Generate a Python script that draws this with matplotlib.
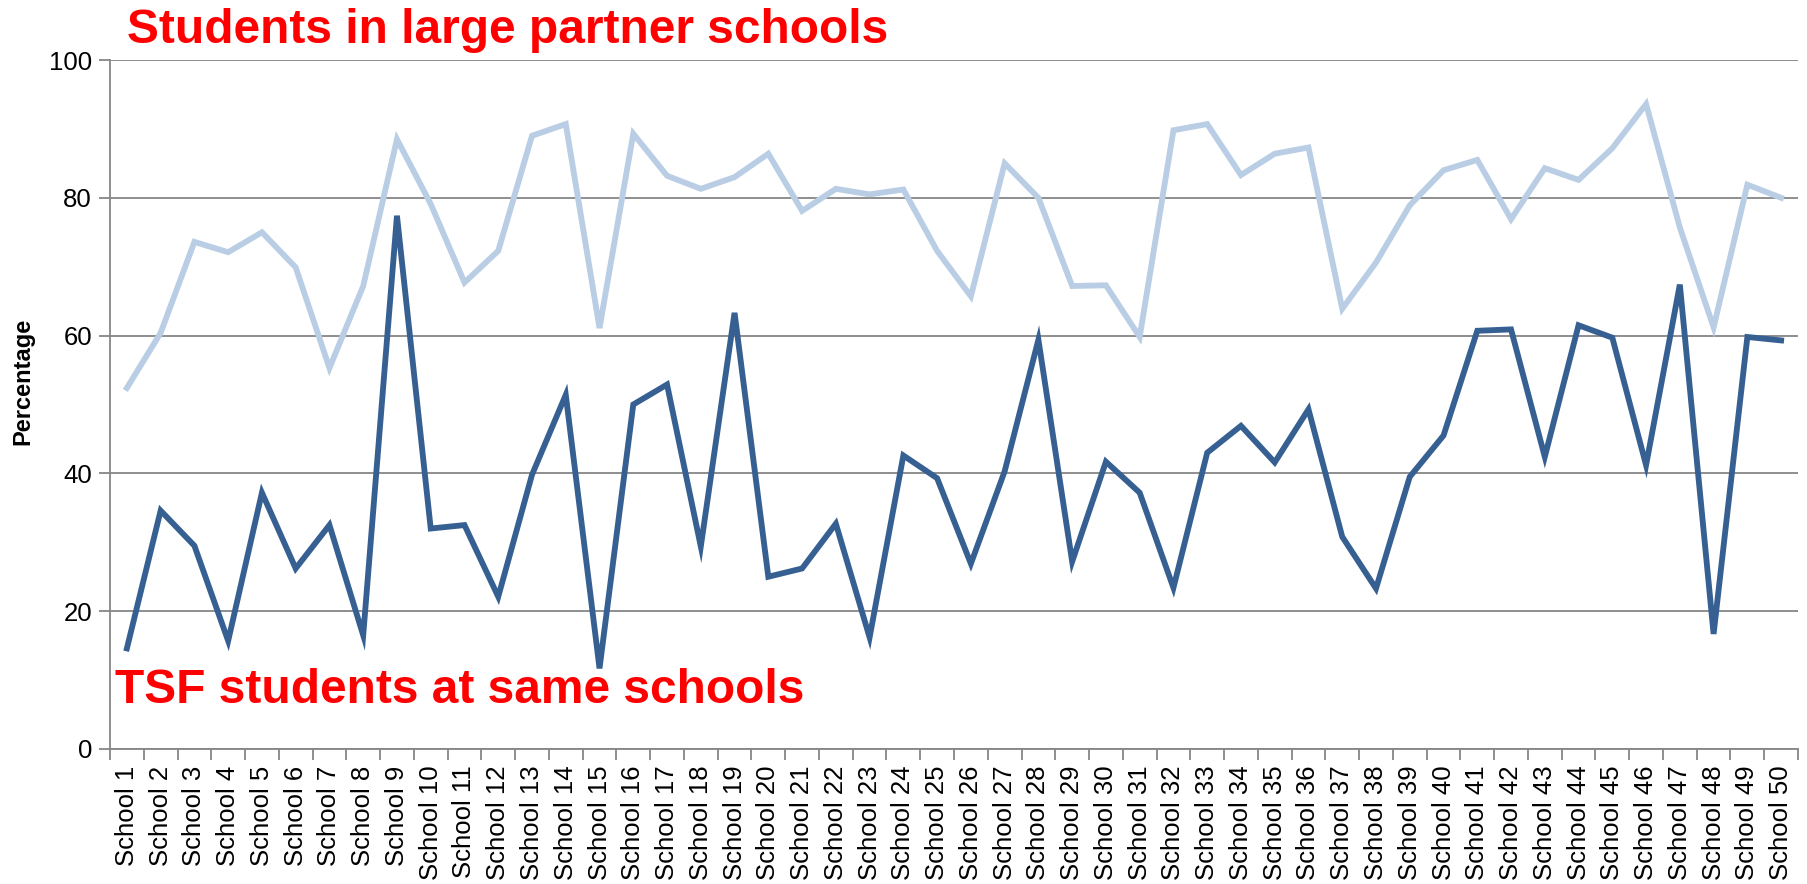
import numpy as np
import matplotlib
matplotlib.use("Agg")
import matplotlib.pyplot as plt

plt.rcParams['font.family'] = ['Liberation Sans', 'DejaVu Sans']

# 学校名称
schools = ["School %d" % i for i in range(1, 51)]

# 大型合作学校的学生比例
large_partner = [52.4, 60.4, 73.6, 72.1, 75.0, 69.9, 55.3, 67.2, 88.5, 79.1,
                 67.7, 72.3, 89.0, 90.7, 61.1, 89.3, 83.2, 81.3, 83.0, 86.4,
                 78.1, 81.3, 80.5, 81.2, 72.3, 65.7, 85.0, 80.0, 67.2, 67.3,
                 59.8, 89.8, 90.7, 83.3, 86.4, 87.3, 63.9, 70.6, 78.9, 84.0,
                 85.5, 76.9, 84.3, 82.6, 87.2, 93.6, 75.7, 61.2, 81.9, 80.0]

# 同校 TSF 学生比例
tsf_same = [14.6, 34.6, 29.5, 15.7, 37.2, 26.2, 32.5, 16.5, 77.4, 32.0,
            32.5, 22.1, 39.8, 51.4, 11.7, 50.0, 52.9, 29.4, 63.3, 25.0,
            26.2, 32.7, 16.2, 42.6, 39.3, 26.9, 40.3, 59.4, 27.2, 41.7,
            37.2, 23.4, 43.0, 46.9, 41.6, 49.3, 30.8, 23.3, 39.5, 45.5,
            60.7, 60.9, 42.4, 61.5, 59.7, 41.2, 67.4, 16.7, 59.8, 59.3]

y_ticks = [0, 20, 40, 60, 80, 100]

W, H = 1807, 884
fig = plt.figure(figsize=(W / 100, H / 100), dpi=100)
ax = fig.add_axes([110 / W, 1 - 749 / H, (1798 - 110) / W, (749 - 60) / H])

x = np.arange(1, len(schools) + 1)
ax.plot(x, large_partner, color="#B9CDE5", lw=4.2, solid_joinstyle="miter", zorder=3)
ax.plot(x, tsf_same, color="#376092", lw=4.2, solid_joinstyle="miter", zorder=4)

ax.set_xlim(0.5, len(schools) + 0.5)
ax.set_ylim(0, 100)
ax.set_yticks(y_ticks)
ax.set_yticklabels([str(v) for v in y_ticks], fontsize=18.5)
ax.yaxis.grid(True, color="#868686", lw=1.3)
ax.set_axisbelow(True)

ax.set_xticks(x)
ax.set_xticklabels(schools, rotation=90, fontsize=18.5)
ax.set_xticks(np.arange(0.5, len(schools) + 1, 1), minor=True)
ax.tick_params(axis="x", which="major", length=0, pad=12)
ax.tick_params(axis="x", which="minor", length=8, color="#868686", width=1.3)
ax.tick_params(axis="y", length=8, color="#868686", width=1.3, pad=5)

for s in ["top", "right"]:
    ax.spines[s].set_visible(False)
for s in ["left", "bottom"]:
    ax.spines[s].set_color("#868686")
    ax.spines[s].set_linewidth(1.3)

fig.text(23 / W, 1 - 381 / H, "Percentage", rotation=90, fontsize=17,
         fontweight="bold", ha="center", va="center")

fig.text(127 / W, 1 - 43 / H, "Students in large partner schools", color="red",
         fontsize=34.5, fontweight="bold", ha="left", va="baseline")
fig.text(115 / W, 1 - 703 / H, "TSF students at same schools", color="red",
         fontsize=34.5, fontweight="bold", ha="left", va="baseline")

fig.savefig("out.png", dpi=100)
